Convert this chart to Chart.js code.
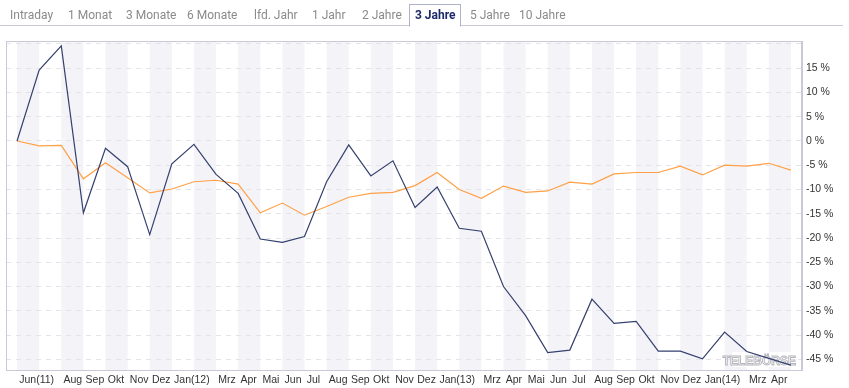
<!DOCTYPE html>
<html>
<head>
<meta charset="utf-8">
<script src="https://cdn.jsdelivr.net/npm/chart.js@4.4.1/dist/chart.umd.min.js"></script>
<style>
  body { margin: 0; width: 849px; height: 388px; background: #fff; overflow: hidden; }
  #tabs { position: absolute; left: 0; top: 0; width: 843px; height: 25px; border-bottom: 1px solid #c8cad8; font-family: Roboto, Arial, sans-serif; z-index: 2; }
  #tabs span { position: absolute; top: 5px; height: 20px; line-height: 20px; font-size: 12px; color: #8a8a8a; white-space: nowrap; }
  #tabs span.on { top: 4px; height: 21px; padding: 0 5px; margin-left: -7px; border: 1px solid #aeb2c8; border-bottom: 1px solid #fff; background: #fff; color: #1d2a6a; font-weight: bold; }
  #grafica { position: absolute; left: 0; top: 0; }
</style>
</head>
<body>
<div id="tabs">
  <span style="left:10px">Intraday</span>
  <span style="left:68px">1 Monat</span>
  <span style="left:126px">3 Monate</span>
  <span style="left:187px">6 Monate</span>
  <span style="left:254px">lfd. Jahr</span>
  <span style="left:312px">1 Jahr</span>
  <span style="left:362px">2 Jahre</span>
  <span class="on" style="left:416px">3 Jahre</span>
  <span style="left:470px">5 Jahre</span>
  <span style="left:519px">10 Jahre</span>
</div>
<canvas id="grafica" width="849" height="388"></canvas>
<script>
const $grafica = document.querySelector("#grafica");

// Monatsanfang Jun 2011 .. Mai 2014 (leere Einträge = Beschriftung ausgeblendet)
const monate = ["Jun(11)", "", "Aug", "Sep", "Okt", "Nov", "Dez", "Jan(12)", "", "Mrz", "Apr", "Mai",
  "Jun", "Jul", "Aug", "Sep", "Okt", "Nov", "Dez", "Jan(13)", "", "Mrz", "Apr", "Mai",
  "Jun", "Jul", "Aug", "Sep", "Okt", "Nov", "Dez", "Jan(14)", "", "Mrz", "Apr", ""];

const aktie = [0, 14.6, 19.6, -14.8, -1.5, -5.3, -19.3, -4.7, -0.7, -6.9, -10.8, -20.2,
  -20.9, -19.7, -8.4, -0.8, -7.2, -4.1, -13.7, -9.5, -18.0, -18.6, -30.0, -36.0,
  -43.6, -43.1, -32.6, -37.6, -37.2, -43.3, -43.3, -44.9, -39.4, -43.4, -44.8, -46.2];

const index = [0, -1.0, -0.9, -7.8, -4.5, -7.6, -10.7, -9.9, -8.4, -8.1, -8.9, -14.8,
  -12.8, -15.3, -13.5, -11.6, -10.8, -10.6, -9.2, -6.5, -10.0, -11.8, -9.3, -10.6,
  -10.3, -8.5, -8.9, -6.8, -6.5, -6.5, -5.2, -7.0, -5.0, -5.2, -4.6, -6.0];

const yTicks = [20, 15, 10, 5, 0, -5, -10, -15, -20, -25, -30, -35, -40, -45];

const colorLinea = "#34406e";
const colorIndex = "#ffa047";
const colorBorde = "#c8cad8";

const bandas = {
  id: "bandas",
  beforeDraw(chart) {
    const { ctx, chartArea: a, scales: { x } } = chart;
    ctx.save();
    ctx.fillStyle = "#f4f4f8";
    for (let i = 0; i < monate.length - 1; i += 2) {
      const x0 = x.getPixelForValue(i);
      const x1 = x.getPixelForValue(i + 1);
      ctx.fillRect(x0, a.top, x1 - x0, a.bottom - a.top);
    }
    ctx.restore();
  },
  beforeDatasetsDraw(chart) {
    const { ctx, chartArea: a } = chart;
    ctx.save();
    // Wasserzeichen
    ctx.fillStyle = "rgba(255,255,255,0.9)";
    ctx.fillRect(a.right - 70, a.bottom - 18, 66, 15);
    ctx.font = "bold 12px 'Liberation Sans', Arial, sans-serif";
    ctx.textAlign = "right";
    ctx.textBaseline = "alphabetic";
    ctx.strokeStyle = "#b4b4bc";
    ctx.lineWidth = 0.9;
    ctx.strokeText("TELEBÖRSE", a.right - 6, a.bottom - 5);
    // Rahmen
    ctx.strokeStyle = colorBorde;
    ctx.lineWidth = 1;
    ctx.strokeRect(a.left + 0.5, a.top + 0.5, a.right - a.left - 1, a.bottom - a.top);
    ctx.restore();
  }
};

new Chart($grafica, {
  type: "line",
  data: {
    datasets: [
      {
        label: "Aktie",
        data: aktie.map((v, i) => ({ x: i, y: v })),
        borderColor: colorLinea,
        borderWidth: 1.2,
        pointRadius: 0,
        tension: 0,
      },
      {
        label: "Index",
        data: index.map((v, i) => ({ x: i, y: v })),
        borderColor: colorIndex,
        borderWidth: 1.2,
        pointRadius: 0,
        tension: 0,
      },
    ],
  },
  plugins: [bandas],
  options: {
    responsive: false,
    animation: false,
    layout: { padding: { top: 41, left: 6, right: 0, bottom: 0 } },
    plugins: {
      legend: { display: false },
      tooltip: { enabled: false },
    },
    scales: {
      x: {
        type: "linear",
        min: -0.5,
        max: 35.5,
        grid: { display: false, drawTicks: false },
        border: { display: true, color: colorBorde },
        afterBuildTicks: (axis) => {
          axis.ticks = monate.map((_, i) => ({ value: i + 0.1 }));
        },
        afterFit: (axis) => { axis.height = 18; },
        ticks: {
          autoSkip: false,
          maxRotation: 0,
          align: "start",
          padding: 4,
          color: "#333",
          font: { family: "Arial", size: 10.5 },
          callback: (v, i) => monate[i],
        },
      },
      y: {
        position: "right",
        min: -47.2,
        max: 20.6,
        grid: { color: "#e4e4e8", drawTicks: false, tickBorderDash: [5, 5] },
        border: { display: true, color: colorBorde, dash: [5, 5] },
        afterBuildTicks: (axis) => {
          axis.ticks = yTicks.map((v) => ({ value: v }));
        },
        afterFit: (axis) => { axis.width = 47; },
        ticks: {
          padding: 4,
          crossAlign: "near",
          color: "#333",
          font: { family: "Arial", size: 10.5 },
          callback: (v) => (v > 15 ? "" : v + " %"),
        },
      },
    },
  },
});
</script>
</body>
</html>
